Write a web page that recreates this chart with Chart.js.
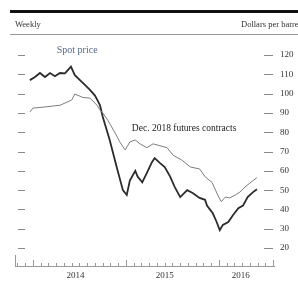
<!DOCTYPE html>
<html>
<head>
<meta charset="utf-8">
<script src="https://cdn.jsdelivr.net/npm/chart.js@4"></script>
<style>
  html, body { margin: 0; padding: 0; background: #fff; overflow: hidden; }
  #wrap { position: relative; width: 298px; height: 283px; }
  #topRule { position: absolute; left: 10px; right: 0; top: 10px; height: 3px; background: #111; }
  #subRule { position: absolute; left: 10px; right: 0; top: 34px; height: 1px; background: #999; }
  .hdr { position: absolute; top: 19px; font: 8.5px 'Liberation Serif', serif; color: #333; white-space: nowrap; }
  #weekly { left: 15px; }
  #units { left: 241px; }
  canvas { position: absolute; left: 0; top: 0; }
</style>
</head>
<body>
<div id="wrap">
  <canvas id="oilChart" width="298" height="283"></canvas>
  <div id="topRule"></div>
  <div id="subRule"></div>
  <div class="hdr" id="weekly">Weekly</div>
  <div class="hdr" id="units">Dollars per barrel</div>
</div>
<script>
// months counted from Jan 2014 (0 = start of 2014)
const spotMonth = [-0.4, 0.26, 0.9, 1.55, 2.2, 2.84, 3.48, 4.13, 4.9, 5.4, 6.06, 6.7, 7.35, 8.0, 8.4, 8.65,
  9.0, 9.9, 10.8, 11.6, 12.1, 12.5, 13.2, 13.5, 14.1, 14.7, 15.35, 15.7, 16.4, 17.0, 17.7, 18.3, 19.0,
  19.9, 20.6, 21.5, 22.2, 22.45, 23.2, 23.7, 24.1, 24.5, 25.2, 25.8, 26.5, 27.1, 27.7, 28.4, 28.9];
const spotPrice = [107, 108.6, 110.7, 108.6, 110.7, 109, 110.7, 110.5, 114, 109.6, 107, 104.5, 102, 99, 96, 94,
  88, 76, 62, 50, 47.5, 55, 60, 57, 54, 59, 64.5, 66.6, 64, 62, 57, 51.6, 46.4,
  50, 48.5, 46, 45, 42, 38, 33.5, 29.3, 32, 33.5, 37, 40.7, 42, 46.4, 49, 50.5];

const futMonth = [-0.4, 0, 1.3, 3.5, 5.0, 5.4, 6.45, 7.35, 8.26, 8.65, 9.0, 9.7, 10.6, 11.2, 11.9, 12.5,
  13.2, 13.8, 14.7, 15.5, 16.4, 17.3, 18.1, 19.2, 20.3, 21.5, 22.2, 23.1, 23.9, 24.3, 24.8, 25.4,
  26.1, 26.7, 27.35, 28.0, 28.9];
const futPrice = [90.5, 92.5, 93, 94, 96.7, 99.8, 98, 97.7, 94, 91.5, 90, 86, 79.6, 75, 70.8, 75,
  76, 74, 72, 74, 73, 72, 68, 65.6, 62, 61, 57, 54, 47, 44, 46.4, 46,
  47.5, 49, 51.6, 53.7, 56.5];

const yTicks = [20, 30, 40, 50, 60, 70, 80, 90, 100, 110, 120];
const xTickLabels = ['2014', '2015', '2016'];
const xTickValues = [5.5, 17, 26.8];
const yearStarts = [0, 12, 24];

// in-chart labels: [text, month, value]
const notes = [
  ['Spot price', 5.7, 122.6, '#56698a'],
  ['Dec. 2018 futures contracts', 19.5, 81.7, '#222']
];

const toPoints = (xs, ys) => xs.map((x, i) => ({ x: x, y: ys[i] }));

// short dashes at both edges, upward month ticks on the x axis, text notes
const decorPlugin = {
  id: 'decor',
  afterDatasetsDraw(chart) {
    const c = chart.ctx;
    const area = chart.chartArea;
    const x = chart.scales.x, y = chart.scales.y;
    c.save();
    c.strokeStyle = '#8a8a8a';
    c.lineWidth = 1;
    yTicks.forEach(v => {
      const py = Math.round(y.getPixelForValue(v)) + 0.5;
      c.beginPath();
      c.moveTo(area.left + 3, py); c.lineTo(area.left + 10, py);
      c.moveTo(area.right - 10, py); c.lineTo(area.right - 1, py);
      c.stroke();
    });
    // x axis ticks pointing up
    c.strokeStyle = '#999';
    for (let m = Math.ceil(x.min); m <= x.max; m++) {
      const px = Math.round(x.getPixelForValue(m)) + 0.5;
      const len = yearStarts.includes(m) ? 6 : 3;
      c.beginPath();
      c.moveTo(px, area.bottom); c.lineTo(px, area.bottom - len);
      c.stroke();
    }
    c.beginPath();
    c.moveTo(area.left + 0.5, area.bottom); c.lineTo(area.left + 0.5, area.bottom - 11);
    c.moveTo(area.right - 0.5, area.bottom); c.lineTo(area.right - 0.5, area.bottom - 6);
    c.stroke();
    c.textAlign = 'center';
    c.textBaseline = 'middle';
    notes.forEach(n => {
      c.font = n[0].length > 12 ? '9.5px "Liberation Serif", serif' : '10px "Liberation Serif", serif';
      c.fillStyle = n[3];
      c.fillText(n[0], x.getPixelForValue(n[1]), y.getPixelForValue(n[2]));
    });
    c.restore();
  }
};

new Chart(document.getElementById('oilChart'), {
  type: 'line',
  data: {
    datasets: [
      {
        label: 'Dec. 2018 futures contracts',
        data: toPoints(futMonth, futPrice),
        borderColor: '#7d7d7d',
        borderWidth: 1,
        pointRadius: 0,
        tension: 0
      },
      {
        label: 'Spot price',
        data: toPoints(spotMonth, spotPrice),
        borderColor: '#2b2b2b',
        borderWidth: 1.8,
        pointRadius: 0,
        tension: 0
      }
    ]
  },
  options: {
    responsive: false,
    animation: false,
    layout: { padding: { top: 40, left: 15, right: 0, bottom: 0 } },
    plugins: { legend: { display: false }, tooltip: { enabled: false } },
    scales: {
      x: {
        type: 'linear',
        min: -2.32,
        max: 31.1,
        afterBuildTicks: s => { s.ticks = xTickValues.map(v => ({ value: v })); },
        afterFit: s => { s.height = 17; },
        grid: { display: false, drawTicks: false, tickLength: 0 },
        border: { display: true, color: '#999', width: 1 },
        ticks: {
          autoSkip: false,
          maxRotation: 0,
          padding: 4,
          color: '#333',
          font: { family: 'Liberation Serif', size: 9 },
          callback: (v, i) => xTickLabels[i]
        }
      },
      y: {
        position: 'right',
        min: 10.7,
        max: 127.8,
        afterBuildTicks: s => { s.ticks = yTicks.map(v => ({ value: v })); },
        afterFit: s => { s.width = 24; },
        grid: { display: false, drawTicks: false, tickLength: 0 },
        border: { display: false },
        ticks: {
          padding: 6,
          color: '#333',
          font: { family: 'Liberation Serif', size: 9 }
        }
      }
    }
  },
  plugins: [decorPlugin]
});
</script>
</body>
</html>
